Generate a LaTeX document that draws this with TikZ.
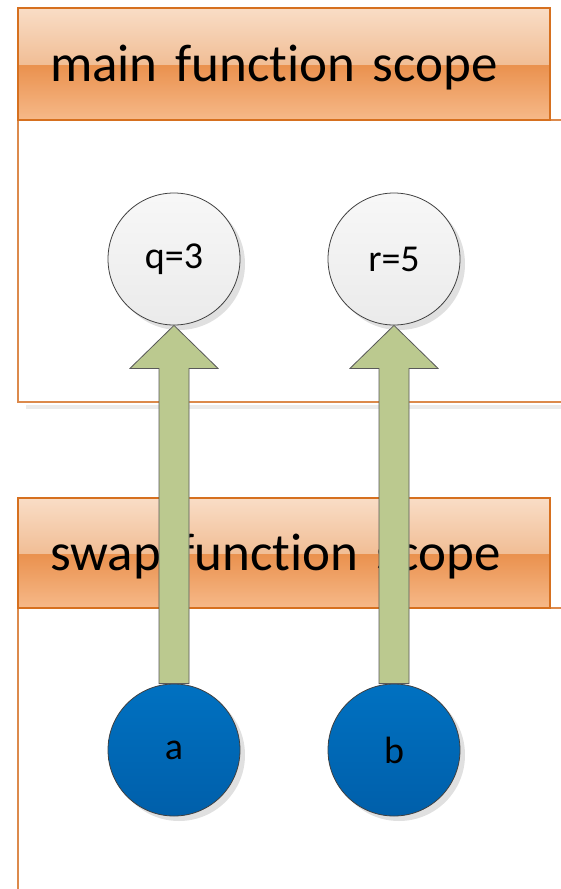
\documentclass[tikz,border=0pt]{standalone}
\usepackage{fontspec}
\setmainfont{Carlito}[Ligatures=NoCommon]
\usetikzlibrary{calc,shadows}
\definecolor{hdrtop}{HTML}{F9DDC6}
\definecolor{hdrmidup}{HTML}{F1BE96}
\definecolor{hdrmiddn}{HTML}{EA914E}
\definecolor{hdrbot}{HTML}{F6B989}
\definecolor{hdrline}{HTML}{D6701F}
\definecolor{scopeline}{HTML}{DC8A4C}
\definecolor{blueup}{HTML}{0071C1}
\definecolor{bluedn}{HTML}{005FAA}
\definecolor{arrowgreen}{HTML}{BBC98F}
\pgfdeclareverticalshading{hdrshade}{100bp}{color(0bp)=(hdrbot); color(25bp)=(hdrbot); color(49.6bp)=(hdrmiddn); color(50bp)=(hdrmidup); color(75bp)=(hdrtop); color(100bp)=(hdrtop)}
\newcommand{\hdrtext}[1]{\raisebox{-4pt}[\height][\depth]{#1}}
\begin{document}
\begin{tikzpicture}[x=1pt, y=-1pt, line join=miter,
    hdr/.style={rectangle, draw=hdrline, line width=2.2pt, shading=hdrshade,
        minimum width=532pt, minimum height=112pt, text width=468pt, inner xsep=32pt,
        align=left, font=\fontsize{53}{56}\selectfont},
    body/.style={draw=scopeline, line width=1.2pt},
    var/.style={circle, minimum size=132pt, inner sep=0pt, draw=black!75, line width=0.8pt,
        font=\fontsize{38}{42}\selectfont,
        drop shadow={shadow xshift=5pt, shadow yshift=-5pt, fill=black!12, opacity=1}},
    valvar/.style={var, top color=white!97!black, bottom color=white!92!black},
    refvar/.style={var, top color=blueup, bottom color=bluedn},
    ptr/.style={fill=arrowgreen, draw=black!65, line width=0.8pt},
    ptrshadow/.style={fill=black!12}]
    \useasboundingbox (0,0) rectangle (561,889);

    % main scope
    \draw[body] (18,120) -- (18,402) -- (561,402);
    \draw[black!8, line width=4pt] (26,407) -- (561,407);
    \draw[body] (550,120) -- (561,120);
    \node[hdr] (mainhdr) at (284,64) {\hdrtext{main function scope}};

    % swap scope
    \draw[body] (18,608) -- (18,889);
    \draw[body] (550,608) -- (561,608);
    \node[hdr, minimum height=110pt] (swaphdr) at (284,553) {\hdrtext{swap function scope}};

    % variables
    \node[valvar] (q) at (174,259) {q=3};
    \node[valvar] (r) at (394,259) {r=5};
    \node[refvar] (a) at (174,750) {a};
    \node[refvar] (b) at (394,750) {b};

    % references
    \foreach \from/\to in {a/q, b/r} {
        \path ($(\to.south)+(0,43)$) coordinate (hb)
              ($(\from.north)$) coordinate (sb);
        \fill[ptrshadow, shift={(6,5)}] (\to.south) -- (hb -| {$(\to.south)+(44,0)$}) -- (hb -| {$(\to.south)+(15,0)$})
            -- (sb -| {$(\to.south)+(15,0)$}) -- (sb -| {$(\to.south)+(-15,0)$})
            -- (hb -| {$(\to.south)+(-15,0)$}) -- (hb -| {$(\to.south)+(-44,0)$}) -- cycle;
        \draw[ptr] (\to.south) -- (hb -| {$(\to.south)+(44,0)$}) -- (hb -| {$(\to.south)+(15,0)$})
            -- (sb -| {$(\to.south)+(15,0)$}) -- (sb -| {$(\to.south)+(-15,0)$})
            -- (hb -| {$(\to.south)+(-15,0)$}) -- (hb -| {$(\to.south)+(-44,0)$}) -- cycle;
    }
\end{tikzpicture}
\end{document}
